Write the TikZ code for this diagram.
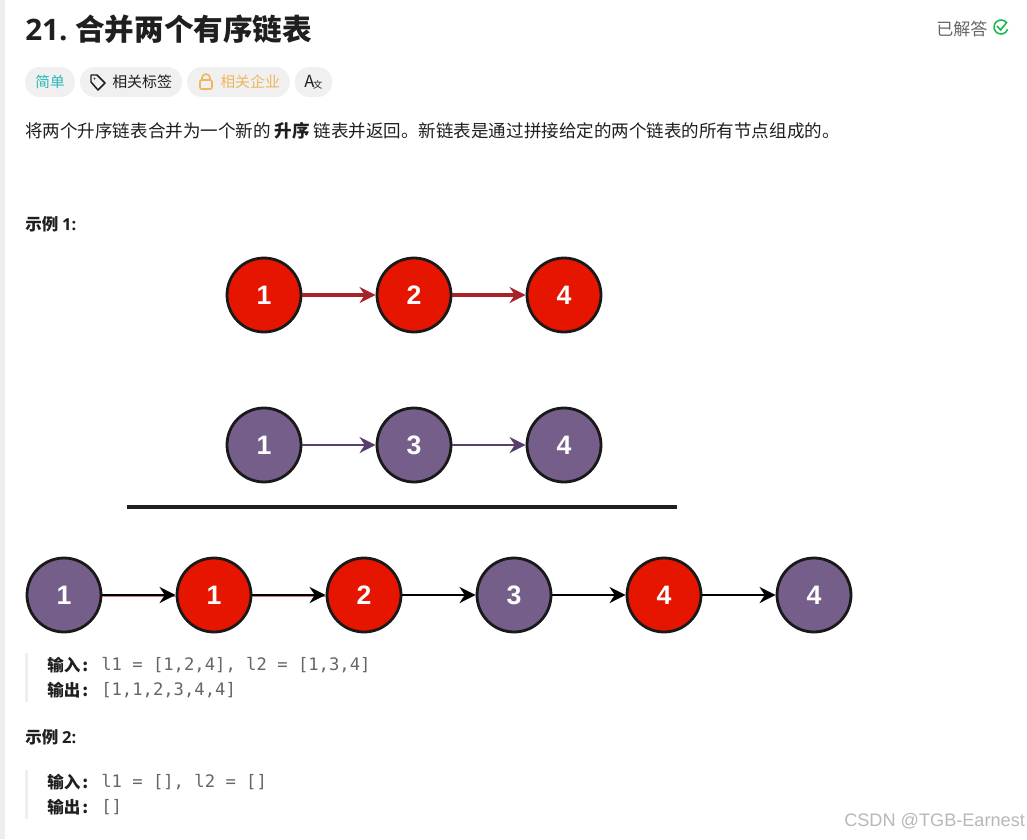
\documentclass[tikz,border=0pt]{standalone}
\usepackage{fontspec}
\setmainfont{Noto Sans CJK SC}
\setmonofont{DejaVu Sans Mono}
\newfontfamily\numfont{Liberation Sans}
\newfontfamily\latinfont{Open Sans}
\usetikzlibrary{arrows.meta}
\definecolor{ListRed}{HTML}{E61500}
\definecolor{ListPurple}{HTML}{755F8A}
\definecolor{LinkRed}{HTML}{A8222A}
\definecolor{LinkPurple}{HTML}{56406B}
\definecolor{ChipGray}{HTML}{F0F0F0}
\definecolor{BarGray}{HTML}{EEEEEE}
\definecolor{InkDark}{HTML}{1F1F1F}
\definecolor{CodeGray}{HTML}{666666}
\definecolor{EasyTeal}{HTML}{2DB8B8}
\definecolor{LockOrange}{HTML}{EFB65F}
\definecolor{DoneGreen}{HTML}{1DB954}

\begin{document}
\begin{tikzpicture}[
    x=0.75pt, y=-0.75pt,
    >=Stealth,
    listnode/.style={draw=black!90, line width=2.1pt, fill=#1, circle, minimum size=55.5pt, inner sep=0pt,
        text=white, font=\numfont\bfseries\fontsize{20}{22}\selectfont},
    link/.style={line width=#1, arrows={-Stealth[length=12pt,width=12pt]}},
    chip/.style={fill=ChipGray, rounded corners=11pt, minimum height=22.5pt, inner sep=0pt},
    plain/.style={anchor=west, inner sep=0pt, text=InkDark},
    body/.style={plain, font=\fontsize{13.15}{15}\selectfont},
    heading/.style={plain, font=\bfseries\fontsize{12.4}{15}\selectfont},
    code/.style={plain, text=CodeGray, font=\ttfamily\fontsize{12.9}{15}\selectfont}
]
    \useasboundingbox (0,0) rectangle (1027,839);
    \fill[white] (0,0) rectangle (1027,839);

    % Left page edge
    \fill[BarGray] (0,0) rectangle (5,839);

    % Title and status
    \node[plain, font=\bfseries\fontsize{22.2}{26}\selectfont] (title) at (25,29) {{\latinfont\bfseries 21.}\hspace{-1pt} 合并两个有序链表};
    \node[plain, text=CodeGray, font=\fontsize{12.8}{15}\selectfont] (solved) at (936,29) {已解答};
    \draw[DoneGreen, line width=1.2pt] (1006.4,22.5) arc (-40:-340:7);
    \draw[DoneGreen, line width=1.2pt] (997,26) -- (1000.5,30) -- (1007,22);

    % Chips
    \node[chip, minimum width=37.5pt] (easy) at (50,82) {};
    \node[text=EasyTeal, inner sep=0pt, font=\fontsize{11}{13}\selectfont] (easytext) at (50,82) {简单};
    \node[chip, minimum width=76.5pt] (tags) at (131,82) {};
    \node[plain, font=\fontsize{11.2}{13}\selectfont] (tagstext) at (112,82) {相关标签};
    \draw[InkDark, line width=1.1pt, line join=round] (91,75) -- (97,75) -- (105,83) -- (98,90) -- (91,82) -- cycle;
    \fill[InkDark] (94.5,78.5) circle (1);
    \node[chip, minimum width=77pt] (firms) at (238.5,82) {};
    \node[plain, text=LockOrange, font=\fontsize{11.2}{13}\selectfont] (firmstext) at (220,82) {相关企业};
    \draw[LockOrange, line width=1.2pt, rounded corners=1pt] (200,80) rectangle (212,89);
    \draw[LockOrange, line width=1.2pt] (202,80) -- (202,78) arc (180:360:4) -- (210,80);
    \node[chip, minimum width=28pt] (lang) at (313.5,82) {};
    \node[inner sep=0pt, text=InkDark, font=\fontsize{12.5}{13}\selectfont] (langtext) at (313.5,82) {A\hspace{-1pt}\raisebox{-0.5pt}{\fontsize{7}{8}\selectfont 文}};

    % Statement
    \node[body] (statement) at (25,131) {将两个升序链表合并为一个新的 \textbf{升序} 链表并返回。新链表是通过拼接给定的两个链表的所有节点组成的。};
    \node[heading] (first) at (25,224) {示例 {\latinfont\bfseries 1:}};

    % First list
    \node[listnode=ListRed] (r1) at (264,295) {1};
    \node[listnode=ListRed] (r2) at (414,295) {2};
    \node[listnode=ListRed] (r3) at (564,295) {4};
    \draw[link=2.4pt, LinkRed] (r1) -- (r2);
    \draw[link=2.4pt, LinkRed] (r2) -- (r3);

    % Second list
    \node[listnode=ListPurple] (p1) at (264,445) {1};
    \node[listnode=ListPurple] (p2) at (414,445) {3};
    \node[listnode=ListPurple] (p3) at (564,445) {4};
    \draw[link=2pt, LinkPurple] (p1) -- (p2);
    \draw[link=2pt, LinkPurple] (p2) -- (p3);

    % Separator
    \coordinate (ruleL) at (127,507);
    \coordinate (ruleR) at (677,507);
    \draw[InkDark, line width=2.4pt] (ruleL) -- (ruleR);

    % Merged list
    \node[listnode=ListPurple] (m1) at (64,595) {1};
    \node[listnode=ListRed] (m2) at (214,595) {1};
    \node[listnode=ListRed] (m3) at (364,595) {2};
    \node[listnode=ListPurple] (m4) at (514,595) {3};
    \node[listnode=ListRed] (m5) at (664,595) {4};
    \node[listnode=ListPurple] (m6) at (814,595) {4};
    \draw[LinkRed!60, line width=0.6pt] ([yshift=-1.4pt]m1.east) -- ([yshift=-1.4pt]m2.west);
    \draw[LinkRed!60, line width=0.6pt] ([yshift=-1.4pt]m2.east) -- ([yshift=-1.4pt]m3.west);
    \draw[link=2.2pt, black] (m1) -- (m2);
    \draw[link=2.2pt, black] (m2) -- (m3);
    \draw[link=2.2pt, black] (m3) -- (m4);
    \draw[link=2.2pt, black] (m4) -- (m5);
    \draw[link=2.2pt, black] (m5) -- (m6);

    % Example 1 text
    \fill[BarGray] (25,653) rectangle (28,702);
    \node[heading] (in1) at (47,665) {输入\hspace{1.5pt}:};
    \node[code] (in1code) at (101,665) {l1 = [1,2,4], l2 = [1,3,4]};
    \node[heading] (out1) at (47,690) {输出\hspace{1.5pt}:};
    \node[code] (out1code) at (101,690) {[1,1,2,3,4,4]};

    % Example 2 text
    \node[heading] (second) at (25,737) {示例 {\latinfont\bfseries 2:}};
    \fill[BarGray] (25,770) rectangle (28,819);
    \node[heading] (in2) at (47,782) {输入\hspace{1.5pt}:};
    \node[code] (in2code) at (101,782) {l1 = [], l2 = []};
    \node[heading] (out2) at (47,807) {输出\hspace{1.5pt}:};
    \node[code] (out2code) at (101,807) {[]};

    % Watermark
    \node[plain, text=black!28, font=\numfont\fontsize{13.6}{16}\selectfont] (mark) at (844,821) {CSDN @TGB-Earnest};
\end{tikzpicture}
\end{document}
